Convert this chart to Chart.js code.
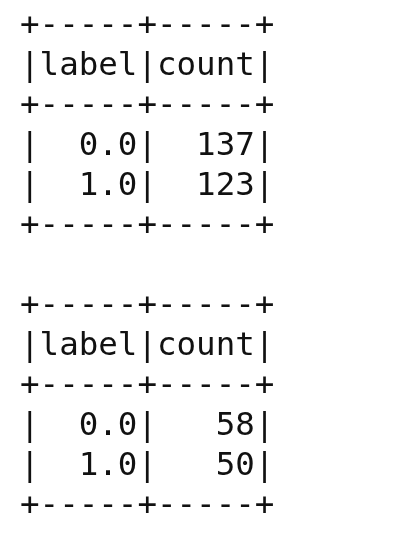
<!DOCTYPE html>
<html>
<head>
<meta charset="utf-8">
<script src="https://cdn.jsdelivr.net/npm/chart.js@4/dist/chart.umd.min.js"></script>
<style>
  html, body { margin: 0; padding: 0; background: #fff; }
  #wrap { width: 408px; height: 533px; position: relative; }
</style>
</head>
<body>
<div id="wrap"><canvas id="chart"></canvas></div>
<script>
const headers = ["label", "count"];
const labels = ["0.0", "1.0"];
const trainCounts = [137, 123];
const testCounts = [58, 50];

const colWidth = 5;
const border = "+" + headers.map(() => "-".repeat(colWidth)).join("+") + "+";
const row = cells => "|" + cells.map(c => String(c).padStart(colWidth)).join("|") + "|";

function tableLines(counts) {
  return [
    border,
    row(headers),
    border,
    ...labels.map((l, i) => row([l, counts[i]])),
    border,
  ];
}

const lines = [...tableLines(trainCounts), "", ...tableLines(testCounts)];

const textTable = {
  id: "textTable",
  afterDraw(chart) {
    const { ctx, scales } = chart;
    ctx.save();
    ctx.font = "32.5px 'DejaVu Sans Mono', monospace";
    ctx.fillStyle = "#111";
    ctx.textBaseline = "alphabetic";
    ctx.textAlign = "left";
    lines.forEach((line, i) => {
      ctx.fillText(line, scales.x.getPixelForValue(0), scales.y.getPixelForValue(i));
    });
    ctx.restore();
  },
};

new Chart(document.getElementById("chart"), {
  type: "scatter",
  data: { datasets: [] },
  options: {
    responsive: true,
    maintainAspectRatio: false,
    animation: false,
    layout: { padding: { top: 35, bottom: 18, left: 20, right: 20 } },
    scales: {
      x: { type: "linear", min: 0, max: 13, display: false },
      y: { type: "linear", min: 0, max: lines.length - 1, reverse: true, display: false },
    },
    plugins: { legend: { display: false }, tooltip: { enabled: false } },
  },
  plugins: [textTable],
});
</script>
</body>
</html>
